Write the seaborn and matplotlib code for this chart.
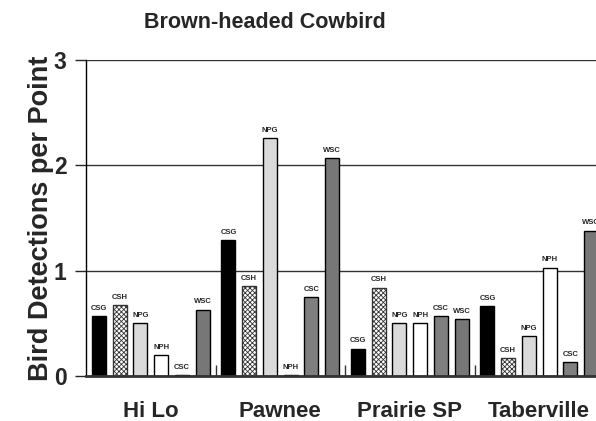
import matplotlib
matplotlib.use('Agg')
import matplotlib.pyplot as plt
import pandas as pd
import seaborn as sns

# ---- data ----
sites = ['Hi Lo', 'Pawnee', 'Prairie SP', 'Taberville']
habitats = ['CSG', 'CSH', 'NPG', 'NPH', 'CSC', 'WSC']
csg = [0.57, 1.29, 0.26, 0.66]
csh = [0.67, 0.85, 0.84, 0.17]
npg = [0.50, 2.26, 0.50, 0.38]
nph = [0.20, 0.01, 0.50, 1.03]
csc = [0.01, 0.75, 0.57, 0.13]
wsc = [0.63, 2.07, 0.54, 1.38]
y_ticks = [0, 1, 2, 3]

series = dict(zip(habitats, [csg, csh, npg, nph, csc, wsc]))
rows = []
for h in habitats:
    for s, v in zip(sites, series[h]):
        rows.append({'site': s, 'habitat': h, 'value': v})
df = pd.DataFrame(rows)

# ---- style ----
sns.set_style('white')
plt.rcParams['font.family'] = ['Liberation Sans', 'DejaVu Sans']
plt.rcParams['hatch.linewidth'] = 0.6

face = {'CSG': '#000000', 'CSH': '#ffffff', 'NPG': '#dadada',
        'NPH': '#ffffff', 'CSC': '#7f7f7f', 'WSC': '#777777'}
hatch = {'CSG': None, 'CSH': 'xxxxxxx', 'NPG': None, 'NPH': None,
         'CSC': None, 'WSC': None}

fig = plt.figure(figsize=(5.96, 4.21), dpi=100)
ax = fig.add_axes([86 / 596, 45 / 421, 518 / 596, 316 / 421])

sns.barplot(data=df, x='site', y='value', hue='habitat', order=sites,
            hue_order=habitats, palette=face, width=0.96, gap=0.32,
            edgecolor='black', linewidth=1, legend=False, ax=ax)

for h, cont in zip(habitats, ax.containers):
    for bar in cont:
        if hatch[h]:
            bar.set_hatch(hatch[h])
            bar.set_edgecolor('#333333')
    ax.bar_label(cont, labels=[h] * len(sites), padding=3,
                 fontsize=5.5, fontweight='bold')

# axes cosmetics
ax.set_ylim(0, 3)
ax.set_xlim(-0.5, 3.5)
ax.set_yticks(y_ticks)
ax.set_yticklabels([str(t) for t in y_ticks], fontsize=16.5, fontweight='bold')
ax.set_xticks(range(len(sites)))
ax.set_xticklabels(sites, fontsize=16, fontweight='bold')
ax.tick_params(axis='x', length=0, pad=18)
ax.tick_params(axis='y', direction='out', length=8, width=1, pad=6, left=True)
ax.set_xticks([0.5, 1.5, 2.5], minor=True)
ax.tick_params(axis='x', which='minor', direction='in', length=8, width=1,
               bottom=True, color='#333333')

ax.yaxis.grid(True, color='#333333', linewidth=1)
ax.set_axisbelow(True)
for side in ['top', 'right']:
    ax.spines[side].set_visible(False)
ax.spines['left'].set_color('black')
ax.spines['left'].set_linewidth(1)
ax.spines['bottom'].set_color('#333333')
ax.spines['bottom'].set_linewidth(2)

ax.set_xlabel('')
ax.set_ylabel('Bird Detections per Point', fontsize=19.5, fontweight='bold')
ax.yaxis.set_label_coords(-0.062, 0.5)
fig.text(265 / 596, 1 - 22 / 421, 'Brown-headed Cowbird', ha='center',
         va='center', fontsize=15.5, fontweight='bold')

fig.savefig('out.png', dpi=100)
